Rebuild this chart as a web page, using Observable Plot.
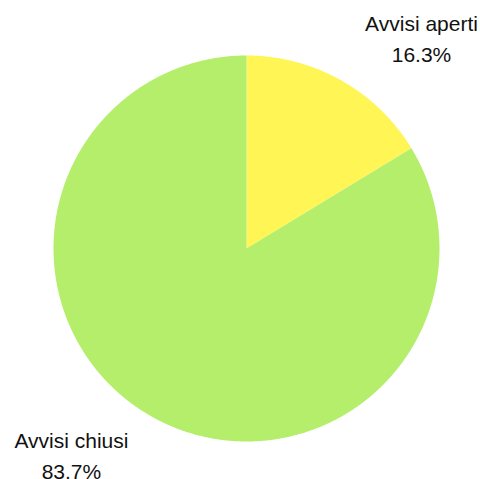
<!DOCTYPE html>
<html><head><meta charset="utf-8">
<script src="https://cdn.jsdelivr.net/npm/d3@7"></script>
<script src="https://cdn.jsdelivr.net/npm/@observablehq/plot@0.6"></script>
<style>body{margin:0;background:#fff}</style>
</head><body><div id="chart"></div>
<script>
const categories = ["Avvisi aperti", "Avvisi chiusi"];
const values = [16.3, 83.7];
const colors = ["#FFF655", "#B5EE6B"];

const pie = d3.pie().sort(null).value(d => d)(values);
const pts = [];
pie.forEach((s, i) => {
  pts.push({x: 0, y: 0, k: categories[i]});
  const n = Math.max(2, Math.ceil((s.endAngle - s.startAngle) / 0.005));
  for (let j = 0; j <= n; j++) {
    const a = s.startAngle + (s.endAngle - s.startAngle) * j / n;
    pts.push({x: Math.sin(a), y: Math.cos(a), k: categories[i]});
  }
  pts.push({x: 0, y: 0, k: categories[i]});
});

// label anchors, rotated from slice mid-angle
const labels = pie.map((s, i) => {
  const mid = (s.startAngle + s.endAngle) / 2;
  const a = mid + (i === 0 ? 0.203 : 0.171);
  const r = i === 0 ? 1.383 : 1.437;
  return {x: Math.sin(a) * r, y: Math.cos(a) * r, name: categories[i], pct: values[i].toFixed(1) + "%"};
});

const chart = Plot.plot({
  width: 480, height: 479,
  marginLeft: 53, marginRight: 41, marginTop: 55, marginBottom: 38,
  x: {domain: [-1, 1], axis: null},
  y: {domain: [-1, 1], axis: null},
  color: {domain: categories, range: colors},
  style: {fontFamily: "'Liberation Sans', Arial, sans-serif", background: "#fff"},
  marks: [
    ...categories.map((c, i) => Plot.line(pts.filter(p => p.k === c), {x: "x", y: "y", fill: colors[i], stroke: "none", curve: "linear"})),
    Plot.text(labels, {x: "x", y: "y", text: "name", fontSize: 21, fill: "#111", dy: -15.5, lineAnchor: "bottom"}),
    Plot.text(labels, {x: "x", y: "y", text: "pct", fontSize: 21, fill: "#111", dy: 15.5, lineAnchor: "bottom"})
  ]
});
document.getElementById("chart").appendChild(chart);
</script></body></html>
